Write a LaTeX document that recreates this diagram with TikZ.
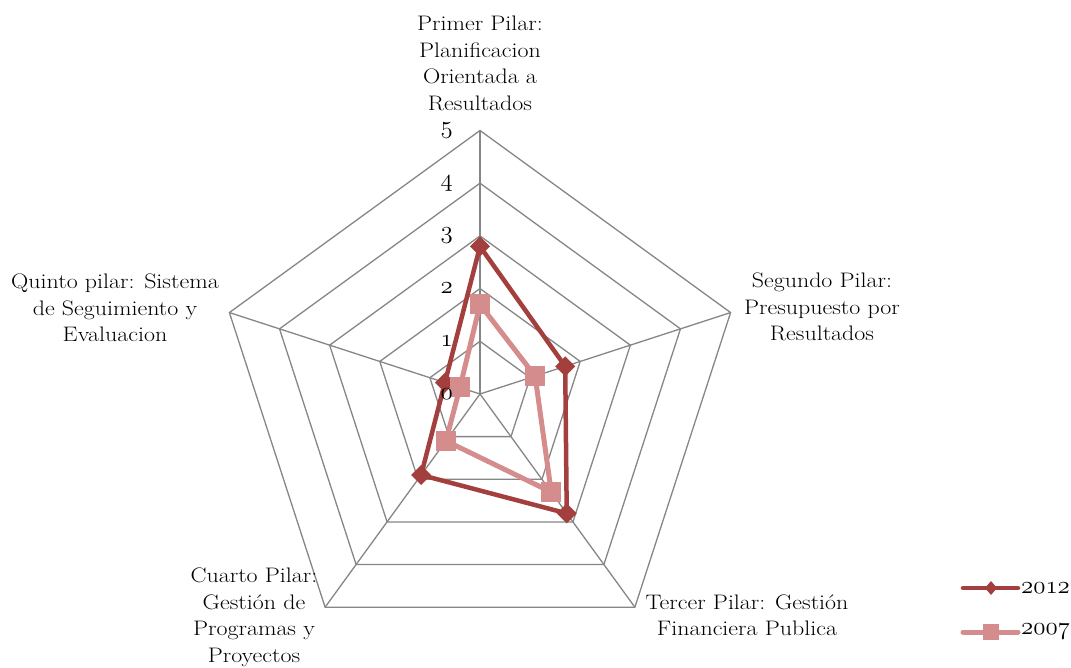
\documentclass[tikz,border=0pt]{standalone}
\usepackage{fontspec}
\usepackage{graphicx}
\definecolor{gridgray}{HTML}{868686}
\definecolor{c12}{HTML}{A3403D}
\definecolor{c07}{HTML}{D48D8C}
\newcommand\osnum[2][24]{{\usefont{OML}{cmm}{m}{it}\fontsize{#1}{#1}\selectfont #2}}
\newcommand\lab[1]{\scalebox{1.14}[1]{\begin{tabular}{@{}c@{}}#1\end{tabular}}}
\begin{document}
\begin{tikzpicture}[x=1pt,y=1pt,
  gridline/.style={draw=gridgray, line width=1.3pt},
  s12/.style={draw=c12, line width=4.5pt, line join=round},
  s07/.style={draw=c07, line width=5pt, line join=round},
  lbl/.style={font=\fontsize{21}{26.5}\selectfont, inner sep=0pt},
  num/.style={anchor=east, inner sep=0pt}]
\useasboundingbox (-480,-273) rectangle (591,394);
\def\u{52.7}
% grid
\foreach \l in {1,...,5}
  \draw[gridline] (90:{\l*\u}) -- (18:{\l*\u}) -- (-54:{\l*\u}) -- (-126:{\l*\u}) -- (162:{\l*\u}) -- cycle;
\coordinate (o) at (0,0);
\foreach \a/\n in {90/t,18/r,-54/br,-126/bl,162/l}
  \coordinate (ax\n) at (\a:{5*\u});
\foreach \n in {t,r,br,bl,l}
  \draw[gridline] (o) -- (ax\n);
% data 2012
\coordinate (a1) at (90:{2.8*\u});
\coordinate (a2) at (18:{1.7*\u});
\coordinate (a3) at (-54:{2.8*\u});
\coordinate (a4) at (-126:{1.9*\u});
\coordinate (a5) at (162:{0.7*\u});
% data 2007
\coordinate (b1) at (90:{1.7*\u});
\coordinate (b2) at (18:{1.1*\u});
\coordinate (b3) at (-54:{2.3*\u});
\coordinate (b4) at (-126:{1.1*\u});
\coordinate (b5) at (162:{0.4*\u});
\draw[s12] (a1) -- (a2) -- (a3) -- (a4) -- (a5) -- cycle;
\foreach \p in {a1,a2,a3,a4,a5}
  \fill[c12] (\p) +(0,10) -- +(10,0) -- +(0,-10) -- +(-10,0) -- cycle;
\draw[s07] (b1) -- (b2) -- (b3) -- (b4) -- (b5) -- cycle;
\foreach \p in {b1,b2,b3,b4,b5}
  \fill[c07] (\p) +(-10,-10) rectangle +(10,10);
% axis numbers
\foreach \l in {0,...,5}
  \node[num] (n\l) at (-27,{\l*\u}) {\osnum[26]{\l}};
% labels
\node[lbl] (Lt) at (0,329) {\lab{Primer Pilar:\\Planificacion\\Orientada a\\Resultados}};
\node[lbl] (Lr) at (342,85) {\lab{Segundo Pilar:\\Presupuesto por\\Resultados}};
\node[lbl] (Lbr) at (267,-223) {\lab{Tercer Pilar: Gestión\\Financiera Publica}};
\node[lbl] (Lbl) at (-226,-223) {\lab{Cuarto Pilar:\\Gestión de\\Programas y\\Proyectos}};
\node[lbl] (Ll) at (-365,84) {\lab{Quinto pilar: Sistema\\de Seguimiento y\\Evaluacion}};
% legend
\coordinate (g1a) at (483,-194); \coordinate (g1b) at (538,-194); \coordinate (g1m) at (511,-194);
\coordinate (g2a) at (483,-238); \coordinate (g2b) at (538,-238); \coordinate (g2m) at (511,-238);
\draw[s12, line cap=round] (g1a) -- (g1b);
\fill[c12] (g1m) +(0,7) -- +(6,0) -- +(0,-7) -- +(-6,0) -- cycle;
\draw[s07, line cap=round] (g2a) -- (g2b);
\fill[c07] (g2m) +(-8,-8) rectangle +(8,8);
\node[anchor=west, inner sep=0pt] (t12) at (541,-194) {\osnum[25]{2012}};
\node[anchor=west, inner sep=0pt] (t07) at (541,-238) {\osnum[25]{2007}};
\end{tikzpicture}
\end{document}
